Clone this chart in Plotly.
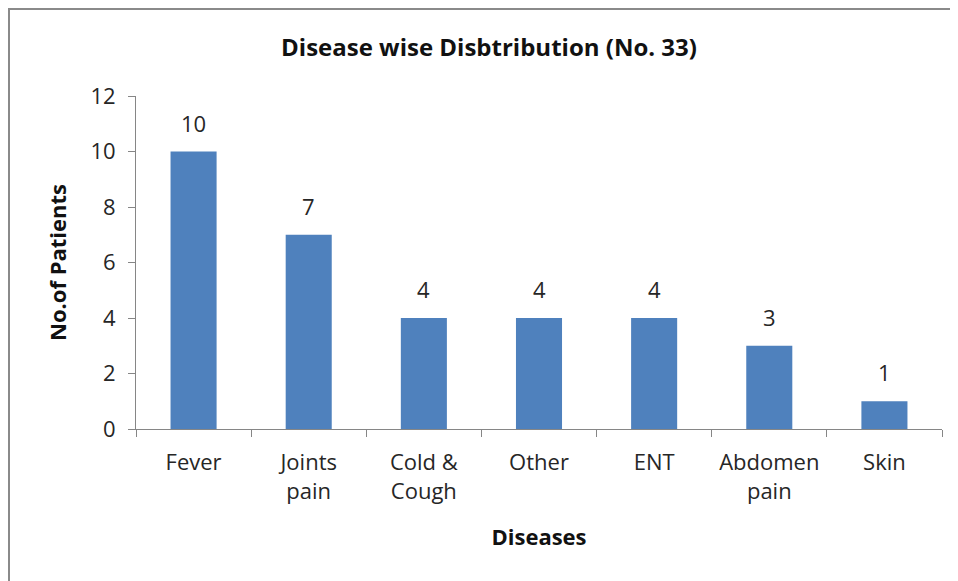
import plotly.graph_objects as go

categories = ["Fever", "Joints<br>pain", "Cold &<br>Cough", "Other", "ENT", "Abdomen<br>pain", "Skin"]
patients = [10, 7, 4, 4, 4, 3, 1]
y_ticks = [0, 2, 4, 6, 8, 10, 12]

FONT = "Open Sans"
W, H = 950, 573           # page adds an 8px body margin
L, R, T, B = 128, 16, 88, 152
PW, PH = W - L - R, H - T - B

fig = go.Figure(go.Bar(
    x=categories, y=patients,
    marker=dict(color="#4F81BD", line=dict(width=0)),
    width=0.4, hoverinfo="x+y",
))

annotations = [
    dict(x=c, y=v, xref="x", yref="y", text=str(v), showarrow=False,
         yanchor="bottom", yshift=12, font=dict(size=22, family=FONT, color="#262626"))
    for c, v in zip(categories, patients)
]

fig.update_layout(
    width=W, height=H,
    margin=dict(l=L, r=R, t=T, b=B),
    paper_bgcolor="white", plot_bgcolor="white",
    showlegend=False,
    title=dict(text="<b>Disease wise Disbtribution (No. 33)</b>", x=481 / W, xanchor="center",
               y=1 - 40 / H, yanchor="middle",
               font=dict(size=24, family=FONT, color="#111111")),
    font=dict(family=FONT, color="#262626"),
    xaxis=dict(
        showline=True, linecolor="#868686", linewidth=1,
        ticks="outside", ticklen=7, tickcolor="#868686", tickson="boundaries",
        tickfont=dict(size=22, family=FONT, color="#262626"),
        ticklabelstandoff=14,
        title=dict(text="<b>Diseases</b>", font=dict(size=22, family=FONT, color="#111111"), standoff=25),
        showgrid=False,
    ),
    yaxis=dict(
        range=[0, 12], tickvals=y_ticks,
        showline=True, linecolor="#868686", linewidth=1,
        ticks="outside", ticklen=7, tickcolor="#868686",
        tickfont=dict(size=22, family=FONT, color="#262626"),
        ticklabelstandoff=8,
        title=dict(text="<b>No.of Patients</b>", font=dict(size=22, family=FONT, color="#111111"), standoff=17),
        showgrid=False, zeroline=False,
    ),
    annotations=annotations,
    shapes=[dict(type="rect", xref="paper", yref="paper",
                 x0=(1 - L) / PW, x1=1.2, y0=-0.7, y1=1 + (T - 1) / PH,
                 line=dict(color="#8a8a8a", width=2), fillcolor="rgba(0,0,0,0)", layer="below")],
)

fig.write_html("out.html")
